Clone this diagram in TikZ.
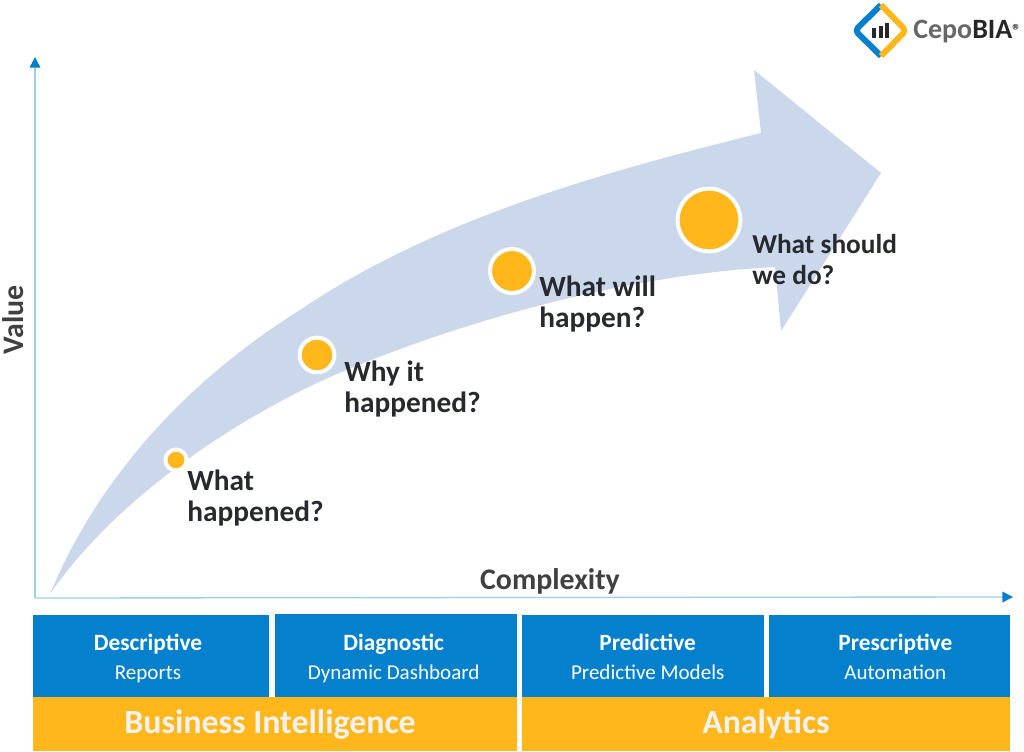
\documentclass[tikz,border=0pt]{standalone}
\usepackage{fontspec}
\setmainfont{Carlito}
\usetikzlibrary{arrows.meta, positioning}
\definecolor{barblue}{HTML}{0480CC}
\definecolor{baryellow}{HTML}{FFB71B}
\definecolor{arrowfill}{HTML}{CBD8EC}
\definecolor{axisline}{HTML}{9CCFEE}
\definecolor{darktext}{HTML}{262A2E}
\definecolor{greytext}{HTML}{404040}
\newcommand{\boxlabel}[2]{\textbf{\fontsize{17.5}{21.75}\selectfont #1\vphantom{Dgp}}\\#2\vphantom{Dgp}}
\tikzstyle{box} = [rectangle, minimum height = 61.5, inner sep = 0, outer sep = 0, fill = barblue]
\tikzstyle{boxtext} = [inner sep = 0, text = white, align = center, yshift = -2,
  font = \fontsize{15.8}{21.75}\selectfont]
\tikzstyle{band} = [rectangle, minimum height = 40.5, inner sep = 0, outer sep = 0, fill = baryellow]
\tikzstyle{bandtext} = [inner sep = 0, text = white!95!black,
  font = \bfseries\fontsize{25.4}{28}\selectfont]
\tikzstyle{ring} = [circle, inner sep = 0, fill = baryellow, draw = white, line width = 3]
\tikzstyle{question} = [anchor = north west, inner sep = 0, align = left, text = darktext,
  font = \bfseries\fontsize{22}{23}\selectfont]
\tikzstyle{axistext} = [text = greytext, font = \bfseries\fontsize{22.4}{24}\selectfont]
\tikzstyle{axis} = [draw = axisline, line width = 1, -{Triangle[length = 8pt, width = 8pt, color = barblue]}]

\begin{document}
\begin{tikzpicture}[x = 0.75pt, y = -0.75pt, node distance = 0]
      \useasboundingbox (0, 0) rectangle (1024, 752);

      % big arrow
      \fill [arrowfill] (50, 594) .. controls (110, 450) and (220, 360) .. (300, 310)
      .. controls (440, 215) and (620, 168) .. (761, 133)
      -- (754, 70) -- (881, 173) -- (781, 331) -- (775, 267)
      .. controls (620, 275) and (450, 325) .. (330, 377)
      .. controls (230, 422) and (115, 500) .. (50, 594) -- cycle;

      % axes
      \coordinate (origin) at (35, 598);
      \coordinate (value-end) at (35, 57);
      \coordinate (complexity-end) at (1013, 597);
      \draw [axis] (origin) -- (value-end);
      \draw [axis] (origin) -- (complexity-end);
      \node [axistext, rotate = 90] (value) at (13, 320) {Value};
      \node [axistext] (complexity) at (550, 581) {Complexity};

      % circles
      \node [ring, minimum size = 15.75] (dot-a) at (176, 460) {};
      \node [ring, minimum size = 26] (dot-b) at (317, 355) {};
      \node [ring, minimum size = 33] (dot-c) at (512, 271) {};
      \node [ring, minimum size = 47] (dot-d) at (709, 220) {};

      % questions
      \node [question] (ask-a) at (187, 470) {What\\happened?};
      \node [question] (ask-b) at (344, 361) {Why it\\happened?};
      \node [question] (ask-c) at (539, 276) {What will\\happen?};
      \node [question, font = \bfseries\fontsize{20.5}{23}\selectfont] (ask-d) at (752, 234) {What should\\we do?};

      % top row
      \node [box, minimum width = 177] (box-0) at (151, 656) {};
      \node [box, minimum width = 181.5, minimum height = 62.25, right of = box-0, xshift = 183.5, yshift = 0.4] (box-1) {};
      \node [box, minimum width = 181.5, right of = box-1, xshift = 185.25, yshift = -0.4] (box-2) {};
      \node [box, minimum width = 180.75, right of = box-2, xshift = 185] (box-3) {};
      \node [boxtext, xshift = -2.25] (text-0) at (box-0) {\boxlabel{Descriptive}{Reports}};
      \node [boxtext, xshift = -1.5, yshift = -0.4] (text-1) at (box-1) {\boxlabel{Diagnostic}{Dynamic Dashboard}};
      \node [boxtext, xshift = 3.75] (text-2) at (box-2) {\boxlabel{Predictive}{Predictive Models}};
      \node [boxtext, xshift = 4.5] (text-3) at (box-3) {\boxlabel{Prescriptive}{Automation}};

      % bottom row
      \node [band, minimum width = 363] (band-0) at (275, 724) {};
      \node [band, minimum width = 366, right of = band-0, xshift = 368.25] (band-1) {};
      \node [bandtext, xshift = -3.75] (text-bi) at (band-0) {Business Intelligence};
      \node [bandtext] (text-an) at (band-1) {Analytics};

      % logo
      \draw [barblue, line width = 4.5, line join = round, rounded corners = 3]
      (881, 5) -- (855, 30.5) -- (881, 56);
      \draw [baryellow, line width = 4.5, line join = round, rounded corners = 3]
      (881, 5) -- (906, 30.5) -- (881, 56);
      \fill [greytext!60!black] (872, 28) rectangle (876, 38);
      \fill [greytext!60!black] (879, 26) rectangle (883, 38);
      \fill [greytext!60!black] (885, 23) rectangle (888.5, 38);
      \node [anchor = base west, inner sep = 0, text = greytext!80,
      font = \bfseries\fontsize{21}{22}\selectfont] (logo) at (913, 39)
      {Cepo\textcolor{black!85}{BIA}\raisebox{2pt}{\fontsize{13}{14}\selectfont\textcolor{black!85}{®}}};
    \end{tikzpicture}
\end{document}
